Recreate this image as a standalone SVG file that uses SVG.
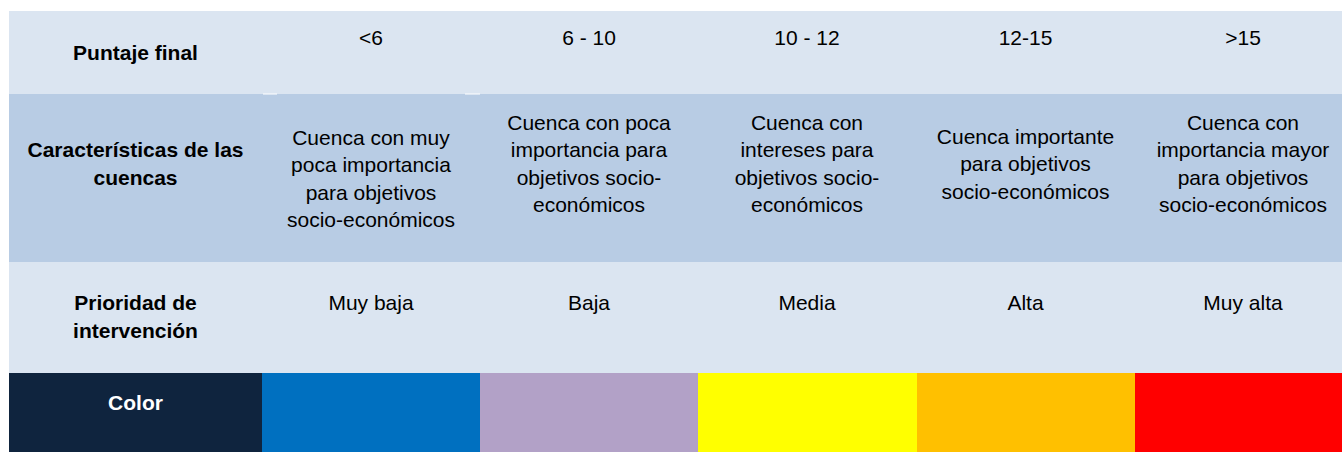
<svg xmlns="http://www.w3.org/2000/svg" width="1342" height="452" viewBox="0 0 1342 452">
<style>
text{font-family:"Liberation Sans",Arial,sans-serif;font-size:21px;fill:#000;text-anchor:middle}
.b{font-weight:bold}
.w{fill:#fff}
.r1{fill:#DBE5F1}
.r2{fill:#B8CCE4}
</style>
<rect width="1342" height="452" fill="#fff"/>
<g id="row-puntaje">
<rect class="r1" x="9" y="11" width="1333" height="83"/>
<text class="b" x="135.5" y="60">Puntaje final</text>
<text x="371" y="45">&lt;6</text>
<text x="589" y="45">6 - 10</text>
<text x="807" y="45">10 - 12</text>
<text x="1025.5" y="45">12-15</text>
<text x="1243" y="45">&gt;15</text>
</g>
<g id="row-caracteristicas">
<rect class="r2" x="9" y="94" width="1333" height="168"/>
<rect fill="#fff" x="263" y="93.5" width="14" height="1"/>
<rect fill="#fff" x="465" y="93.5" width="15" height="1"/>
<text class="b" x="135.5" y="157">Características de las</text>
<text class="b" x="135.5" y="184.5">cuencas</text>
<text x="371" y="144.5">Cuenca con muy</text>
<text x="371" y="172">poca importancia</text>
<text x="371" y="199.5">para objetivos</text>
<text x="371" y="227">socio-económicos</text>
<text x="589" y="129.5">Cuenca con poca</text>
<text x="589" y="157">importancia para</text>
<text x="589" y="184.5">objetivos socio-</text>
<text x="589" y="212">económicos</text>
<text x="807" y="129.5">Cuenca con</text>
<text x="807" y="157">intereses para</text>
<text x="807" y="184.5">objetivos socio-</text>
<text x="807" y="212">económicos</text>
<text x="1025.5" y="143.5">Cuenca importante</text>
<text x="1025.5" y="171">para objetivos</text>
<text x="1025.5" y="198.5">socio-económicos</text>
<text x="1243" y="129.5">Cuenca con</text>
<text x="1243" y="157">importancia mayor</text>
<text x="1243" y="184.5">para objetivos</text>
<text x="1243" y="212">socio-económicos</text>
</g>
<g id="row-prioridad">
<rect class="r1" x="9" y="262" width="1333" height="111"/>
<text class="b" x="135.5" y="310">Prioridad de</text>
<text class="b" x="135.5" y="338">intervención</text>
<text x="371" y="310">Muy baja</text>
<text x="589" y="310">Baja</text>
<text x="807" y="310">Media</text>
<text x="1025.5" y="310">Alta</text>
<text x="1243" y="310">Muy alta</text>
</g>
<g id="row-color">
<rect fill="#0F243E" x="9" y="373" width="253" height="79"/>
<rect fill="#0070C0" x="262" y="373" width="218" height="79"/>
<rect fill="#B2A1C7" x="480" y="373" width="218" height="79"/>
<rect fill="#FFFF00" x="698" y="373" width="219" height="79"/>
<rect fill="#FFC000" x="917" y="373" width="218" height="79"/>
<rect fill="#FF0000" x="1135" y="373" width="207" height="79"/>
<text class="b w" x="135.5" y="410">Color</text>
</g>
<g id="connectors"></g>
</svg>
